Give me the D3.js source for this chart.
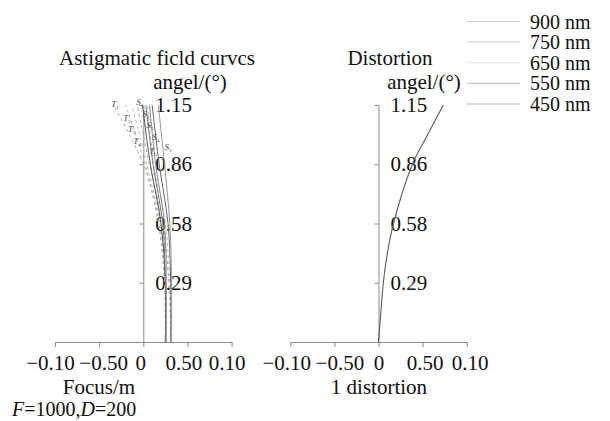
<!DOCTYPE html>
<html>
<head>
<meta charset="utf-8">
<script src="https://cdn.jsdelivr.net/npm/d3@7"></script>
<style>
  body { margin: 0; background: #fff; }
  svg text { font-family: "Liberation Serif", "Times New Roman", serif; fill: #111; }
  .axis path, .axis line { stroke: #8a8a8a; stroke-width: 1; }
  .axis text { font-size: 21px; }
</style>
</head>
<body>
<div class="svg-wrapper"></div>
<script>
// tick values and labels (as printed on the original figure)
const xTicks = [-1, -0.5, 0, 0.5, 1];
const xTickLabels = ["\u22120.10", "\u22120.50", "0", "0.50", "0.10"];
const yTicks = [0.2875, 0.575, 0.8625, 1.15];
const yTickLabels = ["0.29", "0.58", "0.86", "1.15"];

// field angle samples
const angle = [0, 0.2875, 0.575, 0.8625, 1.15];

// sagittal (solid) curves
const sagittal = [
  [0.25, 0.25, 0.20, 0.08, -0.01],
  [0.25, 0.25, 0.22, 0.11, 0.03],
  [0.26, 0.26, 0.24, 0.14, 0.07],
  [0.31, 0.31, 0.28, 0.18, 0.10],
  [0.32, 0.32, 0.30, 0.24, 0.17]
];
// tangential (dashed) curves
const tangential = [
  [0.25, 0.24, 0.17, 0.00, -0.34],
  [0.25, 0.24, 0.18, 0.02, -0.20],
  [0.26, 0.25, 0.19, 0.04, -0.13],
  [0.31, 0.29, 0.22, 0.07, -0.07],
  [0.32, 0.30, 0.25, 0.12, 0.05]
];
const sColors = ["#555", "#777", "#8a8a8a", "#666", "#999"];
const tColors = ["#aaa", "#b5b5b5", "#bbb", "#a5a5a5", "#c0c0c0"];

// curve label anchors [focus, angle]
const sLabels = [[-0.04, 1.16], [0.03, 1.10], [0.075, 1.05], [0.14, 0.99], [0.28, 0.94]];
const tLabels = [[-0.32, 1.15], [-0.185, 1.08], [-0.13, 1.03], [-0.07, 0.97], [0.11, 0.92]];

// distortion curve
const distAngle = [0, 0.107, 0.2875, 0.43, 0.575, 0.8625, 1.0, 1.15];
const distValue = [0, 0.02, 0.055, 0.10, 0.17, 0.385, 0.55, 0.735];

// legend
const wavelengths = ["900 nm", "750 nm", "650 nm", "550 nm", "450 nm"];
const legendColors = ["#c8c8c8", "#d6d6d6", "#dedede", "#cacaca", "#b4b4b4"];

const width = 610, height = 421;
const svg = d3.select(".svg-wrapper").append("svg")
  .attr("width", width).attr("height", height)
  .attr("viewBox", `0 0 ${width} ${height}`);
svg.append("rect").attr("width", width).attr("height", height).attr("fill", "#fff");

const yScale = d3.scaleLinear().domain([0, 1.15]).range([342, 105]);
const xLeft = d3.scaleLinear().domain([-1, 1]).range([55, 231.6]);
const xRight = d3.scaleLinear().domain([-1, 1]).range([290.3, 466.7]);

// the printed tick labels sit slightly off their ticks
function drawAxes(xScale, nudge){
  const xAxis = d3.axisBottom(xScale)
    .tickValues(xTicks)
    .tickFormat((d, i) => xTickLabels[i])
    .tickSize(5)
    .tickSizeOuter(0)
    .tickPadding(8);
  svg.append("g").attr("class", "axis")
    .attr("transform", `translate(0,${yScale(0)})`)
    .call(xAxis)
    .selectAll("text").attr("dx", (d, i) => nudge[i]);

  const yAxis = d3.axisRight(yScale)
    .tickValues(yTicks)
    .tickFormat((d, i) => yTickLabels[i])
    .tickSize(-4)
    .tickSizeOuter(0)
    .tickPadding(12);
  svg.append("g").attr("class", "axis")
    .attr("transform", `translate(${xScale(0)},0)`)
    .call(yAxis);
}
drawAxes(xLeft, [-5, 4, -3, -4, -5]);
drawAxes(xRight, [-4, 5, 0, 2, 3]);

svg.selectAll(".axis").attr("font-family", null).attr("font-size", null);

// astigmatic field curves
const lineLeft = d3.line()
  .x(d => xLeft(d[0]))
  .y(d => yScale(d[1]))
  .curve(d3.curveCatmullRom);

tangential.forEach(function(row, i){
  svg.append("path")
    .attr("d", lineLeft(row.map((v, j) => [v, angle[j]])))
    .attr("fill", "none")
    .attr("stroke", tColors[i])
    .attr("stroke-width", 1)
    .attr("stroke-dasharray", "3,3");
});
sagittal.forEach(function(row, i){
  svg.append("path")
    .attr("d", lineLeft(row.map((v, j) => [v, angle[j]])))
    .attr("fill", "none")
    .attr("stroke", sColors[i])
    .attr("stroke-width", 1);
});

function curveLabel(pos, name, i){
  const t = svg.append("text")
    .attr("x", xLeft(pos[0]))
    .attr("y", yScale(pos[1]))
    .attr("text-anchor", "middle")
    .attr("dominant-baseline", "middle")
    .style("font-size", "9px")
    .style("font-style", "italic")
    .style("fill", "#444");
  t.append("tspan").text(name);
  t.append("tspan").attr("dy", 3).style("font-size", "5px").style("font-style", "normal").text(i + 1);
}
tLabels.forEach((p, i) => curveLabel(p, "T", i));
sLabels.forEach((p, i) => curveLabel(p, "S", i));

// distortion curve
const lineRight = d3.line()
  .x(d => xRight(d[0]))
  .y(d => yScale(d[1]))
  .curve(d3.curveCatmullRom);
svg.append("path")
  .attr("d", lineRight(distValue.map((v, i) => [v, distAngle[i]])))
  .attr("fill", "none")
  .attr("stroke", "#5a5a5a")
  .attr("stroke-width", 1.1);

// titles
function label(x, y, txt, anchor){
  return svg.append("text")
    .attr("x", x).attr("y", y)
    .attr("text-anchor", anchor || "middle")
    .style("font-size", "21px")
    .text(txt);
}
label(157, 65, "Astigmatic ficld curvcs");
label(190, 89, "angel/(\u00b0)");
label(390, 65, "Distortion");
label(424, 89, "angel/(\u00b0)");
label(99, 394, "Focus/m");
label(379, 394, "1 distortion");

const fd = svg.append("text").attr("x", 12).attr("y", 416).style("font-size", "20px");
fd.append("tspan").style("font-style", "italic").text("F");
fd.append("tspan").text("=1000,");
fd.append("tspan").style("font-style", "italic").text("D");
fd.append("tspan").text("=200");

// legend
const legend = svg.append("g").attr("class", "legend");
const legendY = d3.scalePoint().domain(wavelengths).range([21.5, 104]);
wavelengths.forEach(function(w, i){
  legend.append("line")
    .attr("x1", 467).attr("x2", 520)
    .attr("y1", legendY(w)).attr("y2", legendY(w))
    .attr("stroke", legendColors[i])
    .attr("stroke-width", 1.2);
  legend.append("text")
    .attr("x", 530)
    .attr("y", legendY(w) + 7)
    .style("font-size", "20px")
    .text(w);
});
</script>
</body>
</html>
